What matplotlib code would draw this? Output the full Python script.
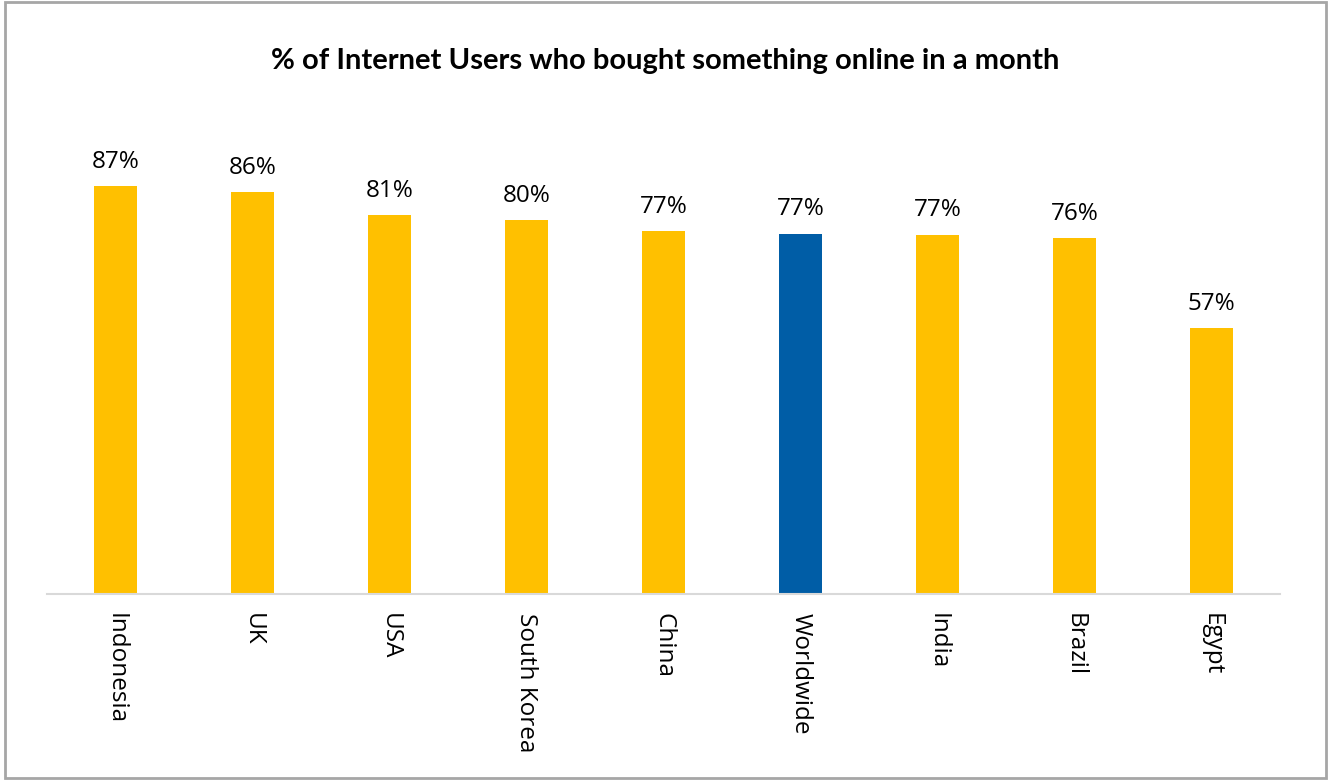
import matplotlib.pyplot as plt
from matplotlib.patches import Rectangle

countries = ["Indonesia", "UK", "USA", "South Korea", "China", "Worldwide", "India", "Brazil", "Egypt"]
values = [87, 85.6, 80.8, 79.7, 77.4, 76.8, 76.6, 75.9, 56.7]
highlight = "Worldwide"

gold = "#FFC000"
blue = "#005DA6"
colors = [blue if c == highlight else gold for c in countries]

fig = plt.figure(figsize=(13.31, 7.80), dpi=100)
ax = fig.add_axes([0.0353, 0.2385, 0.9264, 0.6015])

x = range(len(countries))
bars = ax.bar(x, values, width=0.31, color=colors, zorder=2)

for b, v in zip(bars, values):
    ax.text(b.get_x() + b.get_width() / 2, v + 2.6, "%.0f%%" % v,
            ha="center", va="bottom", fontsize=17.5, family="Open Sans", color="black")

ax.set_xlim(-0.5, len(countries) - 0.5)
ax.set_ylim(0, 100)
ax.set_yticks([])
ax.set_xticks(list(x))
ax.set_xticklabels(countries, rotation=270, fontsize=17.5, family="Open Sans",
                   va="top", ha="center", color="black")
ax.tick_params(axis="x", length=0, pad=14)
for s in ["top", "left", "right"]:
    ax.spines[s].set_visible(False)
ax.spines["bottom"].set_color("#D9D9D9")
ax.spines["bottom"].set_linewidth(1.5)

fig.text(0.5, 0.922, "% of Internet Users who bought something online in a month",
         ha="center", va="center", fontsize=21, fontweight="bold", family="Lato")

# outer frame
fig.patches.append(Rectangle((0.004, 0.003), 0.992, 0.994, transform=fig.transFigure,
                             fill=False, edgecolor="#A6A6A6", linewidth=2))

fig.savefig("out.png", dpi=100)
